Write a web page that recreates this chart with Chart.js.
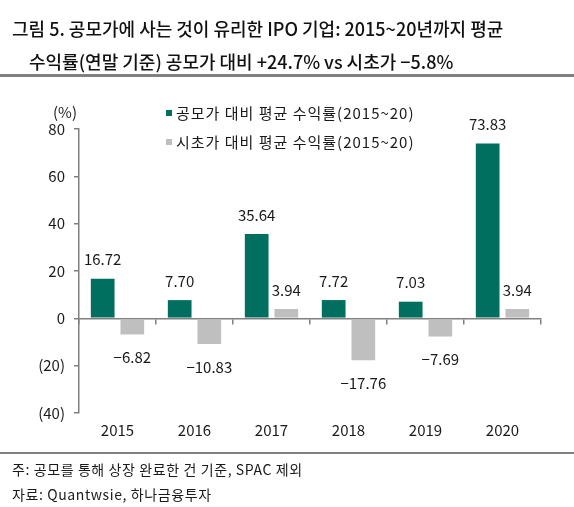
<!DOCTYPE html>
<html>
<head>
<meta charset="utf-8">
<script src="https://cdn.jsdelivr.net/npm/chart.js@4"></script>
<style>
  body { margin: 0; background: #fff; font-family: "Noto Sans CJK KR", "Noto Sans", sans-serif; color: #1a1a1a; }
  #page { position: relative; width: 574px; height: 507px; overflow: hidden; }
  #chart { position: absolute; left: 0; top: 0; }
  .t { position: absolute; white-space: nowrap; }
  .title { font-size: 18px; font-weight: 500; color: #111; }
  .note { font-size: 14px; left: 12px; letter-spacing: 0.6px; }
  .rule { position: absolute; left: 0; width: 574px; background: #808080; }
</style>
</head>
<body>
<div id="page">
  <canvas id="chart" width="574" height="507"></canvas>
  <div class="t title" style="left:12px; top:15px;">그림 5. 공모가에 사는 것이 유리한 IPO 기업: 2015~20년까지 평균</div>
  <div class="t title" style="left:29px; top:48px;">수익률(연말 기준) 공모가 대비 +24.7% vs 시초가 −5.8%</div>
  <div class="rule" style="top:74px; height:3px;"></div>
  <div class="t" style="left:53px; top:101px; font-size:15px;">(%)</div>
  <div class="rule" style="top:452px; height:2px;"></div>
  <div class="t note" style="top:459px;">주: 공모를 통해 상장 완료한 건 기준, SPAC 제외</div>
  <div class="t note" style="top:484px;">자료: Quantwsie, 하나금융투자</div>
</div>
<script>
const years = ['2015', '2016', '2017', '2018', '2019', '2020'];
const offerReturn = [16.72, 7.70, 35.64, 7.72, 7.03, 73.83];   // 공모가 대비
const openReturn = [-6.82, -10.83, 3.94, -17.76, -7.69, 3.94];  // 시초가 대비
const seriesNames = ['공모가 대비 평균 수익률(2015~20)', '시초가 대비 평균 수익률(2015~20)'];

const FONT = '"Noto Sans CJK KR", "Noto Sans", sans-serif';
const TEXT = '#1a1a1a';
const AXIS = '#808080';

// 막대 위/아래 값 표시
const valueLabels = {
    id: 'valueLabels',
    afterDatasetsDraw(chart) {
        const ctx = chart.ctx;
        ctx.save();
        ctx.font = '15px ' + FONT;
        ctx.fillStyle = TEXT;
        ctx.textAlign = 'center';
        ctx.textBaseline = 'middle';
        chart.data.datasets.forEach((ds, i) => {
            chart.getDatasetMeta(i).data.forEach((bar, j) => {
                const v = ds.data[j];
                const y = v >= 0 ? bar.y - 19 : bar.y + 23;
                const txt = v < 0 ? '\u2212' + (-v).toFixed(2) : v.toFixed(2);
                ctx.fillText(txt, bar.x, y);
            });
        });
        ctx.restore();
    }
};

// 범례 (차트 안 왼쪽 위)
const insideLegend = {
    id: 'insideLegend',
    afterDraw(chart) {
        const ctx = chart.ctx;
        ctx.save();
        ctx.font = '15px ' + FONT;
        ctx.letterSpacing = '1px';
        ctx.textBaseline = 'middle';
        chart.data.datasets.forEach((ds, i) => {
            const y = 113 + i * 29;
            ctx.fillStyle = ds.backgroundColor;
            ctx.fillRect(166, y - 3, 6, 6);
            ctx.fillStyle = TEXT;
            ctx.fillText(ds.label, 176, y);
        });
        ctx.restore();
    }
};

new Chart(document.getElementById('chart'), {
    type: 'bar',
    data: {
        labels: years,
        datasets: [{
            label: seriesNames[0],
            data: offerReturn,
            backgroundColor: '#006F5F'
        }, {
            label: seriesNames[1],
            data: openReturn,
            backgroundColor: '#BFBFBF'
        }]
    },
    options: {
        responsive: false,
        animation: false,
        categoryPercentage: 0.77,
        barPercentage: 0.8,
        layout: { padding: { left: 0, right: 33, top: 129, bottom: 54 } },
        plugins: { legend: { display: false }, tooltip: { enabled: false } },
        scales: {
            x: {
                grid: { display: false },
                border: { display: false },
                ticks: { padding: 0, color: TEXT, font: { family: FONT, size: 15 } },
                afterFit: s => { s.height = 40; }
            },
            // 0 기준선과 구분 눈금
            x0: {
                type: 'category',
                labels: years,
                position: { y: 0 },
                offset: true,
                grid: { offset: true, drawOnChartArea: false, tickLength: 5, color: AXIS, lineWidth: 1.5 },
                border: { color: AXIS, width: 1.5 },
                ticks: { display: false }
            },
            y: {
                min: -40,
                max: 80,
                grid: { drawOnChartArea: false, tickLength: 5, color: AXIS, lineWidth: 1.5 },
                border: { color: AXIS, width: 1.5 },
                ticks: {
                    stepSize: 20,
                    padding: 9,
                    color: TEXT,
                    font: { family: FONT, size: 15 },
                    callback: v => v < 0 ? '(' + (-v) + ')' : String(v)
                },
                afterFit: s => { s.width = 79; }
            }
        }
    },
    plugins: [valueLabels, insideLegend]
});
</script>
</body>
</html>
